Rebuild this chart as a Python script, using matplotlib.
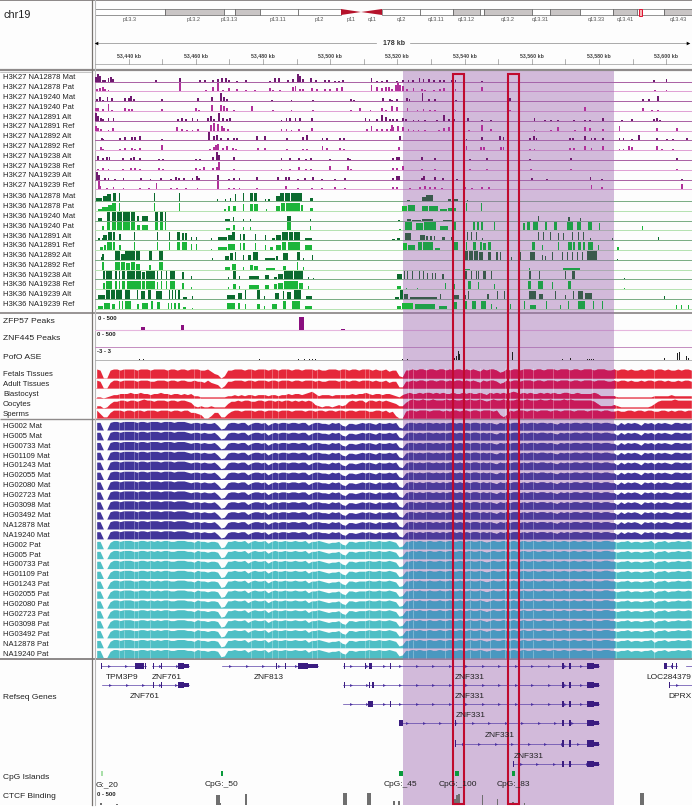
import numpy as np
import matplotlib
matplotlib.use("Agg")
import matplotlib.pyplot as plt
from matplotlib.patches import Rectangle, Polygon

plt.rcParams["font.family"] = ["Liberation Sans", "DejaVu Sans"]

VIEW_START = 53430
VIEW_END = 53607.7

# ── Track names ─────────────────────────────────────────────────────────────
K27_NAMES = ["H3K27 NA12878 Mat", "H3K27 NA12878 Pat", "H3K27 NA19240 Mat", "H3K27 NA19240 Pat",
             "H3K27 NA12891 Alt", "H3K27 NA12891 Ref", "H3K27 NA12892 Alt", "H3K27 NA12892 Ref",
             "H3K27 NA19238 Alt", "H3K27 NA19238 Ref", "H3K27 NA19239 Alt", "H3K27 NA19239 Ref"]
K36_NAMES = [n.replace("K27", "K36") for n in K27_NAMES]
TISSUE_NAMES = ["Fetals Tissues", "Adult Tissues", "Blastocyst", "Oocytes", "Sperms"]
HG_SAMPLES = ["HG002", "HG005", "HG00733", "HG01109", "HG01243", "HG02055", "HG02080",
              "HG02723", "HG03098", "HG03492", "NA12878", "NA19240"]

# ── H3K27 peaks: (kb from view start, height) ───────────────────────────────
K27_0 = [(.3,5),(.9,8),(1.5,6),(2.3,2),(3,2),(4,4),(4.7,5),(5.3,3),(18.2,2),(25.2,4),(31.3,2),(32.8,2),(35.1,2),
         (36.5,3),(37.7,4),(39,4),(39.8,2),(42.2,1),(45,2),(52,1),(53.5,4),(54.7,4),(57.5,2),(59,3),(60.3,8),(61,6),
         (62,3),(64.2,4),(65.7,2),(68.5,2),(69.7,2),(71.5,1),(72.7,1),(73.9,2),(82.3,4),(84,1),(85.5,1),(87,2),
         (89.8,1),(91.8,2),(93.3,2),(94.6,2),(96.6,4),(97.8,3),(99.3,3),(100.8,2),(102.8,2),(103.8,2),(106.3,2),
         (107.3,2),(115.3,1),(166.3,2),(170.1,3)]
K27_1 = [(.5,2),(1.5,3),(2.3,4),(3,2),(4,1),(25.3,8),(33,1),(35,4),(36.5,8),(38,1),(39.8,3),(42.2,2),(45,1),(47.5,1),
         (52,3),(53,1),(55,1),(59,4),(59.7,5),(61,2),(62,2),(64.5,3),(66,2),(68.5,2),(70,2),(72,3),(73.5,4),(82.3,6),
         (84,4),(85.5,3),(86.5,4),(87.5,4),(88.3,2),(89.6,6),(90.3,8),(90.8,6),(91.8,5),(92.8,2),(94.8,3),(97.3,2),
         (98.3,1),(100.8,1),(102.8,2),(103.8,3),(106.6,4),(107.3,2),(115.1,4),(166.6,1),(170.1,1)]
K27_2 = [(.5,2),(1.5,4),(2.3,1),(3.7,4),(5,3),(9,3),(10,3),(10.7,5),(11.5,2),(20,2),(30.7,3),(34.7,4),(37.5,8),(38.3,4),
         (39.3,2),(52.8,1),(58.5,1),(64.8,1),(76.3,2),(77,1),(85.7,3),(87.8,2),(88.3,1),(90,2),(92.8,3),(93.6,2),
         (97.5,8),(99.3,2),(101.1,2),(107.4,1),(123.6,3),(163,2),(164.8,2),(167.5,5)]
K27_3 = [(.3,3),(1,3),(2.3,2),(4,7),(5,1),(9,3),(10,2),(11,2),(20,2),(30,3),(31,1),(34.7,6),(37.5,6),(38.3,5),(39.2,3),
         (41.5,1),(46.7,5),(53,1),(58.5,1),(64.8,1),(76.3,1),(79,3),(82,1),(85.5,3),(86.5,1),(88.3,5),(90,4),(93,3),
         (96,1),(97.8,2),(99.6,1),(101.3,1),(107.3,1),(123.6,1),(145.8,4),(163,3),(165.8,1),(167.5,1)]
K27_4 = [(.3,8),(.9,5),(1.7,3),(2.5,2),(4,3),(5.5,3),(24.7,2),(26,3),(27,2),(29,3),(30.5,2),(33.7,3),(34.5,5),(35.3,2),
         (37,8),(38,3),(39.2,2),(40.3,3),(55.5,1),(57,3),(58,3),(59.7,3),(61,3),(64.5,3),(80.5,3),(81.7,2),(84,2),
         (85.5,6),(86.7,4),(87.7,2),(88.6,2),(89.8,2),(91.6,3),(92.6,2),(94.8,1),(96.3,1),(98.3,1),(101.8,1),(103.8,6),
         (105.3,2),(106.8,2),(109.8,2),(111.1,3),(115.3,1),(117.8,1),(130.8,3),(134,1),(135.8,1),(137.8,1),(142.6,1),
         (145.8,1),(147.3,1),(151.3,3),(156.8,1),(159.8,2),(166.3,2),(167.3,3),(168.1,1)]
K27_5 = [(.3,5),(1,3),(1.7,2),(4,1),(5.3,3),(24.5,4),(26,2),(27.5,1),(29,1),(30.7,2),(34.5,6),(35.5,8),(36.7,7),(37.7,5),
         (38.5,3),(39.5,2),(55.5,2),(57,2),(58.5,1),(60.7,2),(64.7,3),(81,2),(82.3,5),(84,2),(85.5,2),(87,2),(88,2),
         (88.3,6),(88.8,4),(90.3,5),(91.8,4),(93.3,2),(94.8,1),(96.3,1),(98.3,1),(102.3,1),(103.8,3),(105.3,4),(110,3),
         (111.3,1),(115.3,6),(117.8,2),(130.8,1),(135.8,1),(137.8,4),(142.8,1),(145.8,4),(147.3,3),(151.3,2),(156.1,5),
         (167.3,3),(173.3,3)]
K27_6 = [(2,2),(2.5,1),(7.5,2),(9,3),(11,3),(12,3),(13.5,4),(20,1),(34,8),(35.3,4),(36.3,5),(37.5,2),(39.5,2),(41.3,2),
         (42.3,2),(48.3,4),(50.7,4),(57.2,2),(62,3),(63,5),(67.7,2),(69,2),(73,2),(74,2),(90.8,4),(110.6,1),(115.3,3),
         (120.6,4),(121.6,3),(129.6,2),(130.6,4),(131.4,2),(141.3,2),(142.3,2),(145.8,4),(147.8,2),(148.8,2),(151.3,2),
         (156.1,2),(157.3,2),(159.8,1),(162,5),(167.3,2),(170.3,1),(172.1,1),(176.3,2)]
K27_7 = [(1.7,3),(2.3,1),(7.5,1),(9,2),(11,2),(12,1),(13.5,2),(20,5),(34.3,1),(35.3,3),(36,5),(36.7,6),(38,2),(39.3,4),
         (41,2),(42,1),(48.5,2),(50.7,2),(57.2,1),(62,1),(63,1),(67.7,4),(69,2),(73,2),(74,1),(90.6,3),(110.6,4),(115,3),
         (115.8,3),(120.8,3),(121.6,3),(129.6,1),(130.8,1),(141.3,2),(142.6,2),(145.8,4),(147.8,2),(151.3,4),(156.1,1),
         (157.3,1),(159,4),(159.8,3),(167.3,4),(168.8,1),(172,1)]
K27_8 = [(1,4),(2.3,2),(3.5,3),(4.3,3),(8.3,2),(10.7,2),(11.7,3),(13.5,2),(19,1),(20.3,1),(30,1),(31.3,1),(35,3),(36.3,8),
         (37,5),(41.3,3),(55.5,2),(58,2),(60.7,2),(62.7,1),(64.3,2),(70,1),(75.2,2),(76,1),(88.6,2),(90,3),(90.6,3),
         (97.3,3),(101.1,2),(111.6,1),(116.8,2),(129.6,1),(141.6,2),(173.3,2)]
K27_9 = [(1,1),(2.3,2),(4,1),(8.3,1),(10.7,2),(12,2),(13.5,1),(19,2),(20.3,1),(30,2),(31.3,1),(32.5,3),(35,2),(36.3,3),
         (37,8),(41.3,1),(55.5,1),(58,1),(60.7,3),(62.7,1),(64.3,1),(70,4),(75.2,4),(76.3,1),(88.6,2),(90,2),(91.6,4),
         (97.3,1),(101.1,1),(111.6,1),(116.8,1),(129.8,1),(141.6,1),(173.3,1)]
K27_10 = [(.5,8),(1.2,5),(3,2),(4,2),(6,1),(8.5,2),(13.7,2),(16.5,1),(19.7,2),(22.5,1),(24,3),(25,2),(26.5,2),(29,2),
          (30.3,4),(31,2),(36.5,5),(40,1),(41.5,2),(43,2),(48.3,3),(54.5,3),(56.8,3),(57.7,3),(60.5,1),(62.5,2),(65,3),
          (67.5,1),(71.5,1),(74.5,2),(88.6,2),(89.8,4),(90.6,4),(97.3,2),(98,4),(101.3,3),(103.6,2),(107.8,1),(130,2),
          (134.5,1),(147.5,3),(150.8,1),(174.6,1)]
K27_11 = [(1.2,8),(1.5,3),(3.5,1),(5.5,2),(8.5,1),(13.5,1),(16,1),(18.3,6),(22.5,1),(24.5,1),(27,1),(30.5,1),(36.5,8),
          (40,1),(41.5,1),(43,1),(48.3,1),(56.8,3),(60.5,1),(64.5,1),(67.5,1),(71.5,2),(74.5,1),(88.6,2),(89.8,2),
          (93.8,1),(96.8,2),(98.1,3),(99.8,2),(101.3,2),(103.3,1),(110.3,2),(112.3,1),(115.3,2),(117.3,2),(147.8,4),
          (150.8,2),(174.6,5)]
K27_TRACKS = [K27_0, K27_1, K27_2, K27_3, K27_4, K27_5, K27_6, K27_7, K27_8, K27_9, K27_10, K27_11]

# ── H3K36 signal: (start kb, end kb, height) ────────────────────────────────
K36_0 = [(.3,2,3),(2.3,3.5,5),(3.5,4.9,7),(5.4,6.2,8),(7,7.4,8),(17.6,18,8),(25,25.3,8),(36.2,36.5,2),(38.7,39,2),
         (40.2,40.5,3),(41.7,42.1,7),(44,44.4,8),(46,47,8),(47.3,48.3,8),(50.5,50.8,2),(51.6,52,2),(54,55,5),(55.2,56.2,8),
         (56.6,58,8),(58.3,61.5,8),(64,65,3),(92.8,93.8,1),(97.2,98.5,4),(98.5,100.7,6),(105.2,106,2),(106.5,108.1,2),(110.6,111,1)]
K36_1 = [(1,2,2),(2,3.8,4),(4,5,6),(5.2,6.2,8),(7,7.4,8),(17.6,18,8),(25,25.3,8),(38.5,38.9,2),(39.5,40.2,5),(41,42,5),
         (44,44.4,7),(46,47,7),(47.3,48.5,7),(50.8,51.2,2),(54,55,5),(55.3,56.5,8),(57,61,8),(61.2,62,6),(64,65,3),
         (91.3,93,5),(93.3,95.2,6),(97.2,99,5),(99.3,102.2,5),(102.7,104.7,2),(105.2,107.6,3),(109.6,110,8),(110.4,110.8,8),(114.9,115.3,8)]
K36_2 = [(1,2,3),(3.6,4.6,9),(5,6.2,9),(6.5,8,9),(8.3,10.5,9),(10.7,11.9,9),(12.4,13.2,5),(13.9,15.9,5),(17.8,18.7,9),
         (19.2,20.1,9),(20.7,21,9),(38.7,40.2,2),(41,41.4,4),(44,44.3,2),(46,46.3,2),(57.2,58.2,5),(64,64.3,2),
         (90.3,90.7,1),(92.8,94,2),(94.5,97,1),(97.2,100.7,2),(103.7,106.6,1),(132,132.3,5),(140.9,141.3,4),(144.4,144.7,3)]
K36_3 = [(2,2.7,4),(3.6,4.6,8),(5,6.2,8),(6.5,8,8),(8.3,10.5,8),(10.7,11.9,8),(12.6,13.4,5),(14,15.9,5),(17.8,18.7,8),
         (19.2,20.1,8),(20.7,21,8),(39,40.2,2),(41,41.7,5),(44,44.3,3),(46.1,46.4,3),(57.2,58.2,8),(64,64.4,4),
         (90.6,91,1),(92.3,94.5,8),(95.5,97.6,7),(97.9,101.5,8),(102.7,105.2,4),(106.7,107.4,8),(112.4,113.1,8),(113.8,114.4,8),
         (114.9,115.6,8),(118.8,119.1,8),(125.8,126.3,8),(127.3,128,7),(128.5,129.5,8),(130.5,132,8),(134,134.4,8),(136.6,137.4,8),
         (140.4,142.4,8),(143.4,144.8,8),(146.8,147.8,8),(150,150.4,7),(162.7,163.1,4)]
K36_4 = [(1,1.4,2),(2,2.4,2),(2.5,3.7,5),(3.8,5,8),(5.3,6,8),(7.2,7.6,6),(11.7,12,8),(18.4,18.7,8),(22,22.3,8),(24.3,25.3,8),
         (26,26.4,7),(26.9,27.3,7),(28.7,29,3),(30.2,30.5,3),(34.4,34.7,2),(36.7,39.2,3),(39.7,40.7,5),(40.8,41.8,8),(43.1,43.5,6),
         (44.2,44.6,6),(47.6,47.9,6),(50.6,51,5),(52.6,53.5,2),(54,55.5,5),(55.7,57.5,8),(57.8,59,8),(59.2,61,8),(62.5,64.5,2),
         (88.3,89.3,1),(89.8,90.8,2),(92.3,94.2,7),(96.7,98.2,5),(98.6,99,4),(99.8,100.2,4),(101,101.3,4),(103.3,104.2,3),(106.1,106.4,3),
         (110.8,111.1,8),(111.9,112.2,8),(113.3,113.6,8),(115.3,115.6,2),(132,132.3,8),(133.4,133.7,8),(135.4,135.7,8),
         (137.7,138,7),(139.4,139.7,7),(141.9,142.2,8),(143.9,144.2,8),(145.4,145.7,8),(147.3,147.6,2),(154,154.3,2),(167.5,167.9,3)]
K36_5 = [(1.5,2.5,3),(2.7,3.3,5),(3.6,5,8),(5.3,6,8),(7.2,7.6,5),(11.7,12,8),(18.4,18.7,8),(22,22.3,8),(24.3,25.3,8),
         (26,27.3,8),(28.7,29,6),(30.2,30.5,6),(34.4,34.7,1),(36.7,39.2,3),(39.7,41.8,6),(43.1,43.5,7),(44.2,44.6,7),(47.6,47.9,7),
         (50.6,51,5),(52,53,3),(54,55.5,5),(55.7,57,8),(57.5,61,8),(62.5,64.5,5),
         (91.8,93,7),(93.3,95.2,5),(96.2,97.4,8),(97.6,100.7,8),(101.2,102.7,2),(106.2,108.1,8),(109.4,110,8),(110.4,110.8,8),(112.6,113.4,8),
         (114.6,115.3,8),(115.6,116.4,7),(117,118,8),(130,131.1,8),(133,133.3,5),(137.7,138.1,8),(140.9,142,8),(142.3,142.9,8),
         (143.9,144.8,8),(145.2,145.8,8),(146.8,148.1,8),(149.8,150.1,5),(155.5,155.9,3)]
K36_6 = [(1.7,2,3),(2.2,2.6,6),(5.9,7.5,9),(7.8,8.8,6),(9,10.3,9),(10.5,12,9),(12.2,13.4,9),(16.1,17.1,9),(19.1,20.3,9),(34.9,35.2,2),
         (38.7,40,4),(40.2,41.1,7),(41.6,42,8),(44.1,44.4,5),(45.6,46.5,5),(46.9,48.6,8),(50.6,53.5,2),(53.9,54.5,4),(56,57.5,7),
         (60,61,8),(62,62.3,2),(64.5,64.8,5),
         (109.8,111,9),(111.3,112.5,9),(112.8,114,9),(114.3,115.6,8),(117,118,8),(119.5,119.9,8),(120.5,120.9,8),(123.7,124,3),(126.3,126.7,8),
         (129.5,131,8),(133,133.4,5),(134,134.3,4),(136.1,136.4,8),(138.9,139.2,8),(140.4,140.7,8),(141.9,142.2,8),(143.4,143.7,8),
         (144.9,145.2,8),(146.3,149.3,9),(155.5,155.8,1)]
K36_7 = [(2.2,2.6,8),(5.9,7.5,8),(7.8,9,8),(9.3,10.5,7),(10.8,12,8),(12.2,13.4,6),(16.1,16.6,5),(16.9,17.1,3),(19.1,20.3,8),
         (38.7,40.2,3),(40.7,42.1,6),(44.1,44.4,3),(46.1,47,5),(47.3,48.6,4),(51,53.5,2),(56,57,4),(60,60.4,8),(62,62.3,3),
         (109.8,111.6,1),(129.3,129.6,2),(139.4,144.4,2)]
K36_8 = [(2.3,2.9,8),(3.3,5,8),(6,6.4,8),(7,7.4,8),(8,9,8),(9.4,12,8),(12.3,13.8,8),(14,15,7),(15.2,17.8,8),(18.4,18.9,8),(19.6,20,8),
         (21,21.4,8),(22.2,23.8,8),(26,26.4,7),(28.7,29,3),(39.7,40,2),(41,42.1,8),(43,43.3,3),(45.7,48.7,3),(50.7,51.7,4),(53.2,54.2,2),
         (54.5,56,5),(56.3,59,8),(59.2,61.9,8),(63.5,63.8,2),(65,65.3,1),
         (89.8,91.3,5),(92,92.3,8),(93,93.3,8),(94.3,94.6,8),(96.3,96.6,8),(97.5,97.8,8),(98.8,99.1,6),(100.3,100.6,6),(101.3,101.6,6),(103.3,104,5),
         (109.8,110.8,8),(111.8,112.3,8),(113.3,113.6,8),(114,114.3,8),(115.6,116.3,8),(117.8,118.1,8),(129.3,129.8,8),(132.3,132.6,8),
         (139.8,140.1,8),(142,143,8),(157.5,157.8,1)]
K36_9 = [(2.3,2.9,6),(3.3,5,8),(6,6.4,8),(7,7.4,8),(8,9,8),(9.4,13.8,8),(14,15,8),(15.2,17.8,8),(18.4,18.9,7),(19.6,20,8),
         (21,21.4,8),(22.2,23.8,8),(26,26.4,6),(28.7,29,2),(39.7,40,2),(41,42.1,5),(43,43.3,3),(45.7,48.7,4),(50.7,51.7,4),(53.2,54.2,5),
         (54.5,56,6),(56.3,60.5,8),(60.7,61.9,6),(63.5,63.8,3),
         (90,91,3),(92.6,92.9,1),(95.8,96.1,1),(104.2,104.6,6),(106.8,107.1,5),(111.1,111.9,8),(114.1,114.4,7),(118.8,119.1,5),
         (128.8,129.8,8),(131.8,133.3,8),(136.1,136.4,7),(140.8,141.8,8),(157.6,157.9,1)]
K36_10 = [(1,3,4),(3.4,4.4,9),(4.8,6,9),(6.3,7.3,9),(7.5,8,9),(9,10.4,9),(12.4,12.7,9),(13.6,15,8),(15.8,16.8,9),(18.3,19.8,8),
          (22,22.3,9),(22.9,23.2,9),(23.8,24.1,9),(24.8,25.3,9),(26.2,27.4,2),(29,29.3,3),(39.3,41.7,4),(42.7,43.7,6),(44.7,45,9),
          (48.2,49.2,9),(50.2,50.5,3),(53.7,54.7,6),(56,56.3,8),(57.2,58.2,7),(59.2,61.4,9),(62.7,64.7,3),
          (89.3,90.5,2),(90.8,91.6,9),(92,93.3,5),(93.8,101.8,2),(102.8,103.1,5),(106.3,108.3,4),(109.6,110.3,4),(111.1,111.4,8),
          (116.8,117.3,5),(119.6,119.9,8),(121.6,121.9,8),(129.3,131.3,8),(132.3,133.3,5),(136.8,137.1,8),(139.8,140.1,4),(142.3,142.6,8),
          (143.8,145.3,8),(145.8,147.8,6),(169.3,169.7,3)]
K36_11 = [(1,2.5,3),(2.8,4.5,6),(5,6,5),(7,7.4,8),(8,8.4,8),(9,10.6,8),(12.5,13.2,5),(13.9,15.9,6),(16.8,17.2,8),(18.4,19.4,7),
          (21.8,22.1,6),(22.6,23,6),(23.6,24,6),(24.6,25.3,6),(26.2,27,2),(28.8,29.1,1),(39.3,41.7,6),(42.7,43.1,6),(44.7,45,5),
          (48.2,49.2,5),(50.2,50.5,3),(52.6,54.1,5),(56,57,8),(58.5,61,8),(62.5,64.5,3),
          (89.8,91,3),(91.3,94.8,6),(95.3,101.3,5),(102.3,104.8,3),(106.8,107.8,7),(109.8,110.6,8),(112.3,113.3,8),(114.8,116.3,8),
          (117.8,118.1,5),(119.3,119.6,2),(123.5,123.8,5),(127.6,127.9,8),(129.6,131.3,4),(134.3,134.6,8),(138.3,138.6,4),(140.8,141.1,8),
          (143.8,145.8,8),(148.3,148.6,8),(150.8,151.1,8),(172.8,173.1,4),(174.4,174.7,4),(176.4,176.7,4)]
K36_TRACKS = [K36_0, K36_1, K36_2, K36_3, K36_4, K36_5, K36_6, K36_7, K36_8, K36_9, K36_10, K36_11]

# ── Peak tracks ─────────────────────────────────────────────────────────────
ZFP57_POS = [14.3, 26.1, 61.5, 73.8]
ZFP57_VAL = [3, 5, 13, 1]
ZFP57_WID = [1, 1, 1.3, 1]
ASE_POS = [13.1, 14.3, 49.1, 60.7, 62.5, 63.7, 64.6, 65.5, 91.4, 93, 107.1, 107.5, 108.1, 108.5, 124.3, 139.2, 141.4,
           146.7, 147.3, 147.9, 148.5, 169.6, 173.5, 174.1, 176.2, 176.8]
ASE_VAL = [1, 1, 1, 1, 1, 1, 1, 1, 1, 1, 2, 4, 9, 6, 8, 1, 2, 1, 1, 1, 1, 2, 7, 8, 4, 2]

# ── Methylation profiles, one height per kb ────────────────────────────────
FETAL = [8,7,0,0,7,8,8,7,8,8, 8,8,7,8,8,8,7,8,8,8, 8,7,8,8,7,8,8,7,8,8, 8,7,7,8,6,4,3,0,2,7,
         7,8,8,8,7,8,8,7,8,8, 8,7,8,8,7,8,8,8,7,8, 8,7,8,8,8,7,8,7,7,8, 8,8,7,8,8,7,8,8,7,8,
         8,8,7,8,7,7,8,6,7,7, 2,1,7,7,8,7,8,8,7,8, 8,7,8,8,7,8,7,8,8,7, 8,7,8,7,6,8,7,8,8,7,
         5,6,8,7,8,8,7,8,8,8, 7,8,8,7,8,8,8,7,8,8, 8,7,8,8,7,8,8,8,7,8, 8,8,7,7,8,7,8,8,7,8,
         7,7,8,7,8,8,7,8,8,7, 8,7,7,8,7,8,8,7]
ADULT = [7,6,0,0,5,7,7,6,7,7, 7,7,6,7,7,7,6,6,7,7, 7,6,7,7,6,7,7,6,6,7, 6,6,5,7,5,4,3,0,2,6,
         6,7,7,7,6,7,7,6,7,7, 7,6,7,7,6,7,7,7,6,7, 7,6,7,7,7,6,7,6,6,7, 7,7,6,7,7,6,7,7,6,7,
         7,7,6,7,6,6,7,5,6,6, 1,1,6,6,7,6,7,7,6,7, 7,6,7,7,6,7,6,7,7,6, 7,6,7,6,5,7,6,7,7,6,
         4,5,7,6,7,7,6,7,7,7, 6,7,7,6,7,7,7,6,7,7, 7,6,7,7,6,7,7,7,6,7, 7,7,6,6,7,6,7,7,6,7,
         6,6,7,6,7,7,6,7,7,6, 7,6,6,7,6,7,7,6]
BLASTOCYST = [1,1,0,1,2,3,3,4,4,4, 5,4,4,5,4,4,3,4,4,5, 4,4,3,4,4,3,4,3,4,2, 2,1,1,1,1,1,1,1,1,2,
              2,3,2,3,2,3,3,2,3,3, 3,2,3,3,2,3,3,4,3,4, 4,3,4,5,6,4,2,3,3,3, 2,3,3,3,3,3,4,3,4,4,
              5,4,3,4,4,3,4,4,3,2, 1,3,4,5,4,4,5,4,5,5, 4,5,4,5,4,4,5,4,4,5, 4,5,4,4,5,4,3,5,4,5,
              4,5,4,5,6,5,4,5,4,5, 4,4,5,4,5,4,5,4,4,5, 5,4,4,5,4,4,4,4,5,4,  2,2,2,2,2,1,1,1,1,1,
              1,1,1,1,1,1,2,2,2,2, 2,3,2,2,2,2,2,2]
OOCYTES = [2,2,0,1,4,6,6,7,7,6, 7,7,6,7,8,7,7,6,7,7, 7,6,7,7,6,7,7,6,5,2, 1,2,1,1,2,1,1,1,1,4,
           6,6,7,6,7,7,6,6,7,7, 6,7,7,6,7,6,7,7,6,7, 6,7,6,7,6,3,2,1,2,2, 1,2,3,2,3,6,7,6,7,7,
           5,7,7,6,7,6,7,6,5,4, 2,2,5,7,8,7,7,8,7,7, 8,7,7,7,8,7,8,7,7,8, 7,8,7,7,8,7,6,7,8,7,
           7,8,7,7,7,8,7,7,8,7, 7,7,8,7,7,8,7,7,7,8, 7,8,7,7,7,7,7,7,6,4, 2,2,2,2,3,2,1,1,1,1,
           1,1,1,1,1,2,4,6,7,7, 7,7,8,7,7,7,7,7]
SPERMS = [7,4,1,1,5,7,7,7,6,7, 7,6,7,7,6,7,7,7,6,7, 7,7,6,7,7,6,7,7,5,5, 4,3,0,0,2,5,5,1,1,4,
          6,7,7,6,7,7,7,6,7,7, 6,7,7,7,6,7,7,7,6,7, 7,7,6,7,7,6,7,7,6,7, 7,6,7,7,6,7,7,6,7,7,
          7,6,6,7,7,6,7,5,6,2, 0,0,6,7,7,6,7,7,7,6, 7,7,7,6,7,6,7,7,6,7, 7,6,7,7,6,7,7,7,6,7,
          3,1,3,7,6,7,7,7,6,7, 7,6,7,7,7,6,7,7,6,7, 7,7,6,7,7,7,6,7,7,7, 6,7,7,6,6,7,6,6,7,7,
          6,7,7,6,7,7,6,6,7,7, 6,7,6,7,7,6,7,7]
HG_MAT = [8,8,0,0,8,9,9,8,9,9, 9,9,8,9,9,8,9,9,9,8, 9,9,9,8,9,9,9,8,7,8, 8,7,8,7,7,8,5,1,2,7,
          8,8,7,8,8,5,7,8,8,7, 8,5,7,8,7,8,8,7,8,8, 7,8,8,5,7,8,8,7,7,6, 8,7,8,5,4,7,7,6,7,8,
          7,8,7,6,8,7,7,8,7,8, 3,2,7,8,8,7,8,7,8,8, 7,8,7,8,7,8,8,7,8,7, 8,7,8,8,7,8,7,8,7,6,
          8,7,8,7,8,8,7,8,7,8, 8,7,8,8,7,8,7,6,8,7, 8,7,8,8,7,8,8,7,8,8, 7,8,8,7,7,5,8,6,8,7,
          8,7,5,8,7,8,6,8,7,8, 7,6,8,8,7,8,7,8]
HG_PAT = [8,8,0,0,7,9,9,8,9,9, 9,8,8,9,9,8,9,8,9,8, 9,9,8,8,9,9,9,8,8,7, 9,8,8,7,8,8,7,1,2,8,
          8,9,8,8,9,6,8,9,8,8, 9,6,8,9,8,8,9,8,8,9, 8,8,9,6,8,8,9,8,7,6, 7,7,8,5,4,8,8,7,8,8,
          8,9,8,8,9,8,8,9,8,7, 2,3,8,8,9,8,9,8,8,9, 8,8,9,8,8,9,8,8,9,8, 8,9,8,8,9,8,7,8,9,8,
          8,9,8,8,9,8,8,9,8,8, 9,8,8,9,8,8,9,8,8,9, 8,8,9,8,8,9,8,8,9,8, 8,9,9,8,8,7,8,8,9,7,
          8,8,7,8,8,9,6,8,8,9, 7,8,8,9,8,8,9,8]
METHYL_GAPS = [7.2, 8.6, 11.7, 12.7, 16.5, 21.7, 29.6, 31.2, 46.3, 50.3, 52.6, 54.4, 56.8, 64.6, 66, 73, 74.5, 80.4, 81.6,
               85.2, 93.2, 94.8, 98.4, 104.3, 106.2, 111.6, 114.5, 117.6, 122, 123.6, 127.5, 130.4, 136.4, 141.2, 147.8, 155, 166.4]
HG_MAT_SCALE = [.95, .95, .92, .93, .94, .92, .94, .93, .93, .92, .92, .90]
HG_PAT_SCALE = [.93, .92, .92, .91, .92, .92, .92, .93, .92, .92, .92, .91]

# ── Genes: (row, start, end, exons) with exons as (start, end, tall) ────────
GENE_ROWS = [667, 686, 705, 724, 744.5, 765]
GENE_TPM3P9 = (0, 1.8, 15.2, [(1.9, 2.2, 1), (11.9, 14.6, 1), (15, 15.3, 1)])
GENE_ZNF761_A = (0, 17, 28, [(17.3, 17.6, 1), (19.6, 19.9, 1), (24.6, 26.5, 1), (26.5, 28, 0)])
GENE_ZNF761_B = (1, 2.1, 28, [(17.2, 17.6, 1), (19.6, 19.9, 1), (24.6, 26.5, 1), (26.5, 28, 0)])
GENE_ZNF813 = (0, 37.8, 66.4, [(53.8, 54.2, 1), (56.5, 56.8, 1), (60.4, 63.4, 1), (63.4, 66.4, 0)])
ZNF331_TAIL = [(139.1, 139.6, 1), (141.2, 141.6, 1), (146.4, 148.5, 1), (148.5, 150, 0)]
GENE_ZNF331_1 = (0, 73.8, 150, [(74, 74.3, 1), (80.4, 80.8, 1), (81.5, 82.5, 1), (87.7, 88, 1)] + ZNF331_TAIL)
GENE_ZNF331_2 = (1, 73.8, 150, [(74, 74.3, 1), (81.5, 81.9, 1), (82.5, 82.9, 1)] + ZNF331_TAIL)
GENE_ZNF331_3 = (2, 73.8, 150, [(81.2, 82.6, 1), (87.7, 88, 1)] + ZNF331_TAIL)
GENE_ZNF331_4 = (3, 90.5, 150, [(90.5, 91.7, 1), (107.2, 107.5, 1)] + ZNF331_TAIL)
GENE_ZNF331_5 = (4, 107.1, 150, [(107.2, 107.5, 1)] + ZNF331_TAIL)
GENE_ZNF331_6 = (5, 124.3, 150, [(124.4, 124.7, 1)] + ZNF331_TAIL)
GENE_LOC = (0, 169.3, 173.2, [(169.3, 170.3, 1), (171.6, 171.9, 1), (173, 173.3, 1)])
GENE_DPRX = (1, 170.9, 178, [(171, 171.2, 1)])
GENE_ZNF_EDGE = (0, 176, 178, [])
GENES = [GENE_TPM3P9, GENE_ZNF761_A, GENE_ZNF761_B, GENE_ZNF813, GENE_ZNF331_1, GENE_ZNF331_2, GENE_ZNF331_3,
         GENE_ZNF331_4, GENE_ZNF331_5, GENE_ZNF331_6, GENE_LOC, GENE_DPRX, GENE_ZNF_EDGE]
GENE_LABELS = ["TPM3P9", "ZNF761", "ZNF761", "ZNF813", "ZNF331", "ZNF331", "ZNF331", "ZNF331", "ZNF331", "LOC284379", "DPRX"]
GENE_LABEL_POS = [8.2, 21.4, 14.9, 51.8, 111.6, 111.6, 111.9, 120.4, 129.2, 170.7, 174.0]
GENE_LABEL_Y = [678, 678, 697, 678, 678, 697, 716, 736, 757, 678, 697]

CPG_START = [1.7, 37.4, 90.5, 107.2, 124.0]
CPG_END = [2.3, 38.0, 91.6, 108.3, 125.0]
CPG_COLOR = ["#a9dfa9", "#0a9a3c", "#0a9a3c", "#0a9a3c", "#0a9a3c"]
CPG_LABELS = ["G:_20", "CpG:_50", "CpG:_45", "CpG:_100", "CpG:_83"]
CPG_LABEL_POS = [3.6, 37.8, 90.8, 107.9, 124.4]

CTCF_POS = [1.8, 6.5, 36.6, 37.3, 44.9, 74.3, 81.7, 89.1, 90.6, 106.5, 107.1, 107.7, 108.3, 115.3, 119.8, 124.4, 127.8, 162.9]
CTCF_VAL = [1.5, 1, 10, 2, 11, 12, 12, 4, 4, 3, 6, 10, 11, 10, 6, 3, 2, 12]
CTCF_WID = [.8, .6, 1, .6, .7, 1.2, 1.2, .6, .6, .6, .6, .6, .6, .25, .25, .7, .25, 1.2]

# ── Ideogram, in picture-width units of the chromosome strip ────────────────
BAND_EDGES = [95, 165, 223.5, 235, 259.5, 297.5, 341, 382, 420, 453, 480, 484, 532, 550, 579.5, 613, 637, 664, 692]
BAND_COLORS = ["w", "#c9c5c5", "w", "#c9c5c5", "w", "w", "none", "w", "w", "#c9c5c5", "w", "#c9c5c5", "w",
               "#c9c5c5", "w", "#c9c5c5", "w", "#c9c5c5"]
BAND_LABELS = ["p13.3", "p13.2", "p13.13", "p13.11", "p12", "p11", "q11", "q12", "q13.11", "q13.12", "q13.2",
               "q13.31", "q13.33", "q13.41", "q13.43"]
BAND_LABEL_X = [130, 194, 229.5, 278, 319.5, 351, 372, 401, 436, 466, 508, 540, 596, 625, 678]

HIGHLIGHT = (53430 + 91.8, 53430 + 154.6)
RED_BOXES = [(53430 + 106.6, 53430 + 109.9), (53430 + 122.9, 53430 + 126.2)]

GREY = "#8f8b8b"


def bars(ax, pos, val, wid, base, color, z=4.5):
    ax.bar(VIEW_START + np.asarray(pos, float), -np.asarray(val, float), width=wid, bottom=base,
           color=color, linewidth=0, zorder=z)


def profile(ax, vals, base, color, hi_color, scale=1.0):
    # heights are drawn twice: plain, then in the blended colour inside the highlight
    x = VIEW_START + np.arange(len(vals)) + .5
    y = base - np.asarray(vals, float) * scale
    ax.fill_between(x, y, base, color=color, linewidth=0, zorder=3)
    inside = ax.fill_between(x, y, base, color=hi_color, linewidth=0, zorder=4.2)
    inside.set_clip_path(Rectangle((HIGHLIGHT[0], 0), HIGHLIGHT[1] - HIGHLIGHT[0], 812, transform=ax.transData))
    top = base - 9 * scale
    ax.vlines(VIEW_START + np.asarray(METHYL_GAPS), top, base, color="white", lw=.5, alpha=.4, zorder=4.3)


fig = plt.figure(figsize=(6.92, 8.12), dpi=100)
chrome = fig.add_axes([0, 0, 1, 1])
chrome.set_xlim(0, 692)
chrome.set_ylim(812, 0)
chrome.axis("off")
ax = fig.add_axes([95 / 692, 0, 597 / 692, 1])
ax.set_xlim(VIEW_START, VIEW_END)
ax.set_ylim(812, 0)
ax.axis("off")
ax.patch.set_alpha(0)

# frame of the browser
chrome.add_patch(Rectangle((0, 0), 692, 806, fc="#fdfdfd", ec="none"))
for y, lw in [(1, 2), (71, 2.2), (313.5, 1.8), (420, 1.4), (660, 2.0)]:
    chrome.plot([0, 692], [y, y], color=GREY, lw=lw * .72, solid_capstyle="butt")
chrome.plot([91.5, 91.5], [0, 806], color="#77736f", lw=.9)
chrome.plot([94.5, 94.5], [0, 806], color="#bbbbbb", lw=.8)
chrome.plot([0, 91], [72.5, 72.5], color="#999999", lw=.4)
chrome.text(3, 15, "chr19", fontsize=7.8, va="center", color="#222222")

# ideogram
for left, right, col in zip(BAND_EDGES[:-1], BAND_EDGES[1:], BAND_COLORS):
    if col != "none":
        chrome.add_patch(Rectangle((left, 10), right - left, 6, fc=col, ec="#444444", lw=.4))
chrome.add_patch(Polygon([(341, 10), (361, 13), (341, 16)], fc="#b5122b", ec="none"))
chrome.add_patch(Polygon([(382, 10), (361, 13), (382, 16)], fc="#b5122b", ec="none"))
chrome.add_patch(Rectangle((638.5, 9.5), 3.5, 7, fc="#f5b5b5", ec="#e01030", lw=.7))
for x, name in zip(BAND_LABEL_X, BAND_LABELS):
    chrome.text(x, 19.5, name, fontsize=4, color="#555555", ha="center", va="center")

# span and ruler
chrome.plot([96, 376], [43.5, 43.5], color="#888888", lw=.5)
chrome.plot([410, 688], [43.5, 43.5], color="#888888", lw=.5)
chrome.plot(96, 43.5, marker="<", ms=2.6, color="black", mew=0)
chrome.plot(688, 43.5, marker=">", ms=2.6, color="black", mew=0)
chrome.text(394, 43.5, "178 kb", fontsize=5, fontweight="bold", color="#333333", ha="center", va="center")
ax.plot([VIEW_START, VIEW_END], [65, 65], color="#999999", lw=.5)
for kb in np.arange(VIEW_START + 10, VIEW_END, 10):
    ax.plot([kb, kb], [60, 64.5], color="#777777", lw=.4)
for kb in np.arange(VIEW_START + 10, VIEW_END, 20):
    ax.text(kb, 56, f"{int(kb):,} kb", fontsize=3.8, fontweight="bold", color="#444444", ha="center", va="center")

# H3K27
K27_COLORS = ["#6f1a70", "#b0309a"]
K27_LINES = ["#a95fa3", "#e0a0d4"]
for i, (name, peaks) in enumerate(zip(K27_NAMES, K27_TRACKS)):
    base = 82.5 + i * 9.8
    chrome.text(3, base - 4.6, name, fontsize=5.5, va="center", color="#222222")
    ax.plot([VIEW_START, VIEW_END], [base, base], color=K27_LINES[i % 2], lw=.7, zorder=2)
    pos, val = zip(*peaks)
    bars(ax, pos, val, .55, base, K27_COLORS[i % 2])

# H3K36
K36_COLORS = ["#0b6b2e", "#1cb53a"]
K36_HI = ["#3a5a4c", "#1f9f48"]
K36_LINES = ["#78ac82", "#b4e2b0"]
for i, (name, spans) in enumerate(zip(K36_NAMES, K36_TRACKS)):
    base = 202 + i * 9.8
    chrome.text(3, base - 5.2, name, fontsize=5.5, va="center", color="#222222")
    ax.plot([VIEW_START, VIEW_END], [base, base], color=K36_LINES[i % 2], lw=.7, zorder=2)
    starts, ends, val = map(np.array, zip(*spans))
    inside = (starts >= HIGHLIGHT[0] - VIEW_START) & (starts < HIGHLIGHT[1] - VIEW_START)
    colors = [K36_HI[i % 2] if f else K36_COLORS[i % 2] for f in inside]
    ax.bar(VIEW_START + starts, -val, width=ends - starts, bottom=base, align="edge",
           color=colors, linewidth=0, zorder=4.5)

# peaks and ASE
chrome.text(3, 322, "ZFP57 Peaks", fontsize=6.1, va="center", color="#222222")
chrome.text(3, 339, "ZNF445 Peaks", fontsize=6.1, va="center", color="#222222")
chrome.text(3, 358, "PofO ASE", fontsize=6.1, va="center", color="#222222")
ax.plot([VIEW_START, VIEW_END], [331, 331], color="#e6b6de", lw=.8, zorder=2)
ax.plot([VIEW_START, VIEW_END], [347.5, 347.5], color="#c48cc0", lw=.7, zorder=2)
ax.plot([VIEW_START, VIEW_END], [360.7, 360.7], color="#aaaaaa", lw=.6, zorder=2)
bars(ax, ZFP57_POS, ZFP57_VAL, ZFP57_WID, 331, "#8a0f7f")
bars(ax, ASE_POS, ASE_VAL, .3, 360.7, "#222222")
chrome.text(98, 319, "0 - 500", fontsize=4.2, fontweight="bold", va="center", color="#222222")
chrome.text(97, 335, "0 - 500", fontsize=4.2, fontweight="bold", va="center", color="#222222")
chrome.text(97, 352, "-3 - 3", fontsize=4.2, fontweight="bold", va="center", color="#222222")

# tissue methylation
TISSUE_PROFILES = [FETAL, ADULT, BLASTOCYST, OOCYTES, SPERMS]
for i, (name, vals) in enumerate(zip(TISSUE_NAMES, TISSUE_PROFILES)):
    base = 379 + i * 10
    chrome.text(3, base - 4.6, name, fontsize=5.6, va="center", color="#222222")
    ax.plot([VIEW_START, VIEW_END], [base, base], color="#f3b0b4", lw=.6, zorder=2)
    profile(ax, vals, base, "#e5283a", "#c81a5a", 9 / 8)

# sample methylation
for i, name in enumerate(HG_SAMPLES):
    base = 431 + i * 9.9
    chrome.text(3, base - 4.6, name + " Mat", fontsize=5.5, va="center", color="#222222")
    profile(ax, HG_MAT, base, "#41359a", "#4c3a9a", HG_MAT_SCALE[i])
    base = 431 + (i + 12) * 9.9
    chrome.text(3, base - 4.6, name + " Pat", fontsize=5.5, va="center", color="#222222")
    profile(ax, HG_PAT, base, "#4fbfc5", "#4a98c0", HG_PAT_SCALE[i])

# genes
for row, start, end, exons in GENES:
    y = GENE_ROWS[row]
    ax.plot([VIEW_START + start, VIEW_START + end], [y, y], color="#5a40a8", lw=.5, zorder=4.5, clip_on=True)
    chevrons = np.arange(start + 2.4, end - 1, 4.9)
    ax.plot(VIEW_START + chevrons, [y] * len(chevrons), ls="", marker=">", ms=2.1, mew=0, color="#4a30a0", zorder=4.5)
    for s, e, tall in exons:
        half = 3.4 if tall else 2
        ax.add_patch(Rectangle((VIEW_START + s, y - half), e - s, half * 2, fc="#3a1c80", ec="none", zorder=4.5))
for label, pos, y in zip(GENE_LABELS, GENE_LABEL_POS, GENE_LABEL_Y):
    ax.text(VIEW_START + pos, y, label, fontsize=6, ha="center", va="center", color="#222222", zorder=6, clip_on=True)
chrome.text(3, 698, "Refseq Genes", fontsize=6, va="center", color="#222222")

# CpG and CTCF
chrome.text(3, 778, "CpG Islands", fontsize=6, va="center", color="#222222")
chrome.text(3, 797, "CTCF Binding", fontsize=6, va="center", color="#222222")
for s, e, c in zip(CPG_START, CPG_END, CPG_COLOR):
    ax.add_patch(Rectangle((VIEW_START + s, 772), e - s, 5.3, fc=c, ec="none", zorder=4.5))
for label, pos in zip(CPG_LABELS, CPG_LABEL_POS):
    ax.text(VIEW_START + pos, 785, label, fontsize=6, ha="center", va="center", color="#222222", zorder=6)
chrome.text(97, 795, "0 - 500", fontsize=4.2, fontweight="bold", va="center", color="#222222")
bars(ax, CTCF_POS, CTCF_VAL, CTCF_WID, 805.5, "#6f6f6f")

# highlight region and red boxes, over the tracks
ax.add_patch(Rectangle((HIGHLIGHT[0], 72), HIGHLIGHT[1] - HIGHLIGHT[0], 733.5,
                       fc=(159 / 255, 106 / 255, 177 / 255, .45), ec="none", zorder=4))
for left, right in RED_BOXES:
    ax.add_patch(Rectangle((left, 74.5), right - left, 730, fc="none", ec="#c00a2e", lw=1.5, zorder=5))

fig.savefig("out.png", dpi=100)
